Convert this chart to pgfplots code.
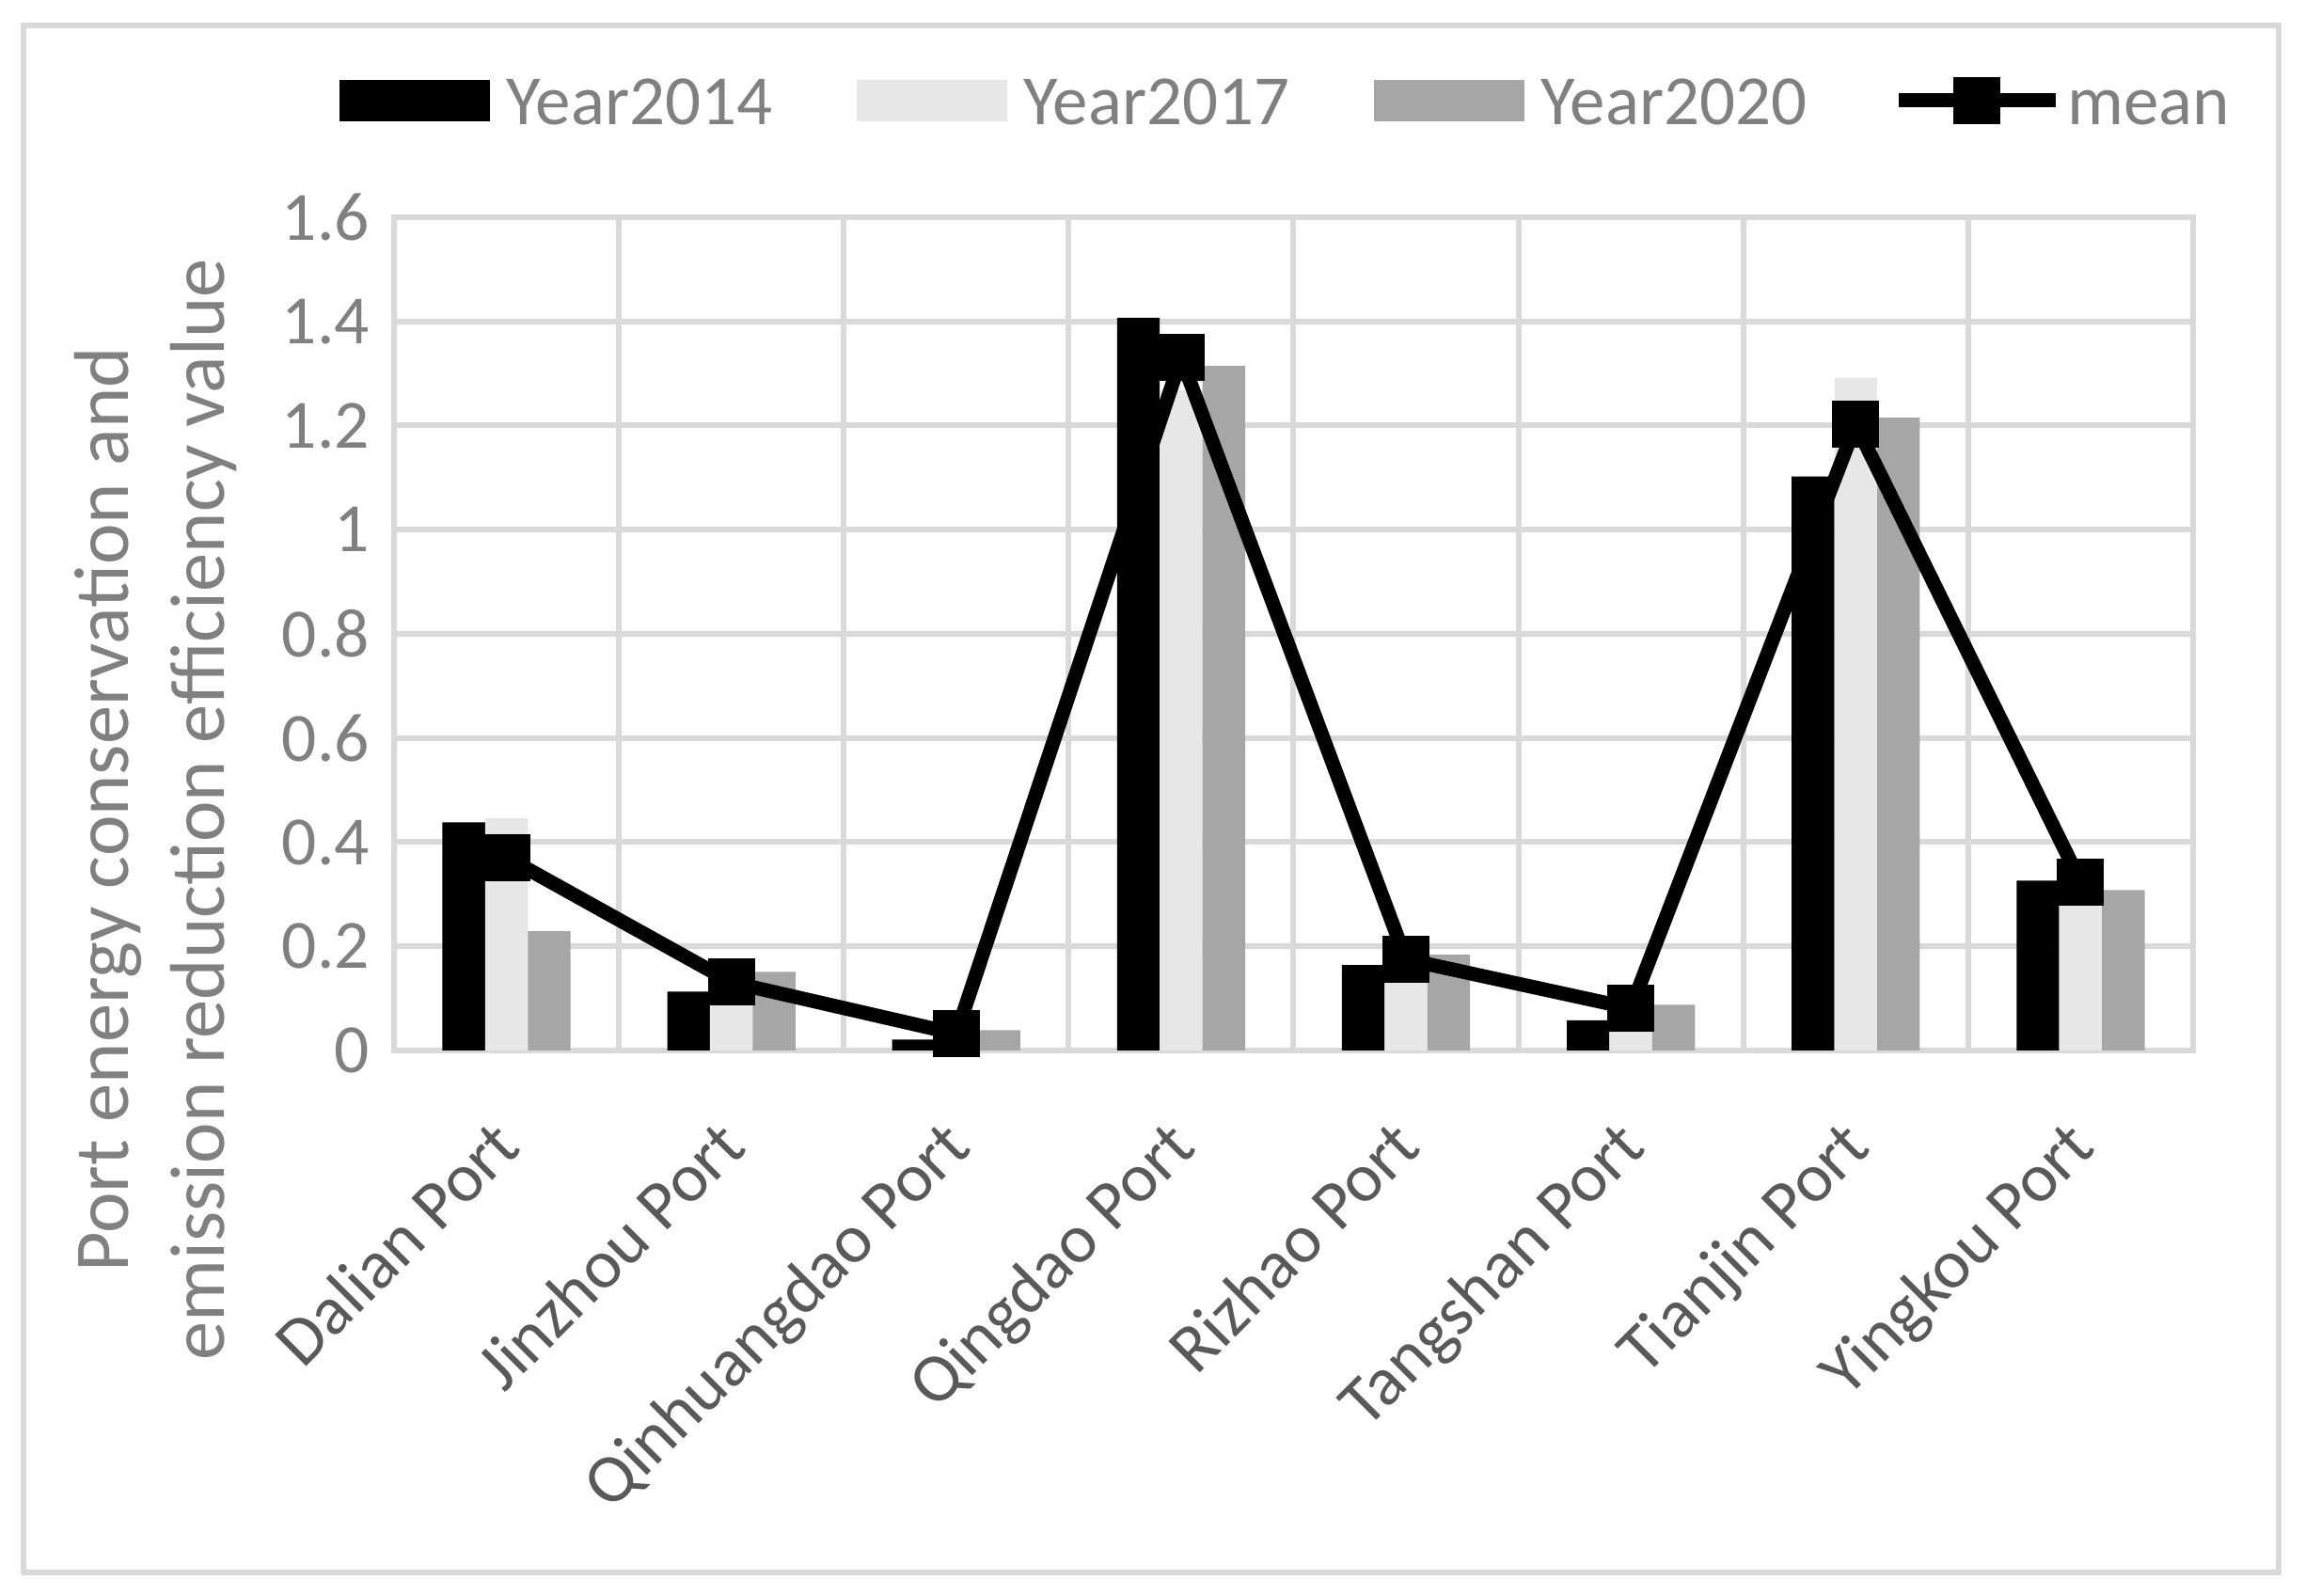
\documentclass[border=0pt]{standalone}
\usepackage{fontspec}
\setmainfont{Carlito}
\usepackage{pgfplots}
\pgfplotsset{compat=1.18}
\definecolor{gridc}{HTML}{D9D9D9}
\definecolor{lightbar}{HTML}{E7E7E7}
\definecolor{darkbar}{HTML}{A6A6A6}
\definecolor{txtgray}{HTML}{808080}
\definecolor{catgray}{HTML}{595959}
\pgfplotsset{meanlegend/.style={legend image code/.code={\draw[##1, mark repeat=2, mark phase=2] plot coordinates {(0pt,0pt) (16.7pt,0pt) (33.4pt,0pt)};}}}
\begin{document}
\begin{tikzpicture}
\path[use as bounding box] (0,0) rectangle (490.2pt,339.4pt);
\draw[gridc, line width=1.2pt] (5pt,5pt) rectangle (484.5pt,334pt);
\begin{axis}[
  at={(83.8pt,116pt)}, anchor=south west,
  scale only axis, width=382.6pt, height=177.2pt,
  xmin=-0.5, xmax=7.5, ymin=0, ymax=1.6,
  xtick={0,1,2,3,4,5,6,7},
  xticklabels={Dalian Port, Jinzhou Port, Qinhuangdao Port, Qingdao Port, Rizhao Port, Tangshan Port, Tianjin Port, Yingkou Port},
  minor xtick={-0.5,0.5,1.5,2.5,3.5,4.5,5.5,6.5,7.5},
  ytick={0,0.2,0.4,0.6,0.8,1,1.2,1.4,1.6},
  xmajorgrids=false, xminorgrids=true, ymajorgrids=true,
  grid style={gridc, line width=1.2pt},
  minor grid style={gridc, line width=1.2pt},
  axis line style={gridc, line width=1.2pt},
  major tick length=0pt, minor tick length=0pt,
  tick style={draw=none},
  /pgf/number format/assume math mode=true,
  yticklabel style={font=\fontsize{14.7}{17}\selectfont, text=txtgray, inner sep=0pt, xshift=-5pt},
  xticklabel style={font=\fontsize{14.7}{17}\selectfont, text=catgray, inner sep=0pt, xshift=3.7pt, yshift=-21pt, rotate=45, anchor=base east},
  ylabel={Port energy conservation and\\emission reduction efficiency value},
  ylabel style={at={(axis description cs:-0.1323,0.289)}, anchor=center, align=center, font=\fontsize{16.5}{20.4}\selectfont, text=txtgray},
  legend columns=4,
  legend style={draw=none, fill=none, at={(axis description cs:0.497,1.140)}, anchor=center,
    font=\fontsize{15}{17}\selectfont, text=txtgray,
    /tikz/every odd column/.append style={column sep=2pt},
    /tikz/every even column/.append style={column sep=16.5pt},
    nodes={inner sep=1.5pt}},
]
\addplot[ybar, bar width=0.19, bar shift=-0.19, fill=black, draw=none,
  legend image code/.code={\fill[black] (0pt,-4.4pt) rectangle (32pt,4.4pt);}]
  coordinates {(0,0.438) (1,0.113) (2,0.021) (3,1.407) (4,0.164) (5,0.058) (6,1.102) (7,0.326)};
\addlegendentry{Year2014\strut}
\addplot[ybar, bar width=0.19, bar shift=0, fill=lightbar, draw=none,
  legend image code/.code={\fill[lightbar] (0pt,-4.4pt) rectangle (32pt,4.4pt);}]
  coordinates {(0,0.446) (1,0.130) (2,0.036) (3,1.268) (4,0.177) (5,0.097) (6,1.292) (7,0.338)};
\addlegendentry{Year2017\strut}
\addplot[ybar, bar width=0.19, bar shift=0.19, fill=darkbar, draw=none,
  legend image code/.code={\fill[darkbar] (0pt,-4.4pt) rectangle (32pt,4.4pt);}]
  coordinates {(0,0.229) (1,0.151) (2,0.039) (3,1.315) (4,0.184) (5,0.088) (6,1.215) (7,0.308)};
\addlegendentry{Year2020\strut}
\addplot[black, line width=3pt, mark=square*, mark size=4.75pt, mark options={solid, line width=0.5pt, rounded corners=0.8pt}, meanlegend]
  coordinates {(0,0.371) (1,0.131) (2,0.032) (3,1.330) (4,0.175) (5,0.081) (6,1.202) (7,0.324)};
\addlegendentry{\hspace{-2.5pt}mean\strut}
\end{axis}
\end{tikzpicture}
\end{document}
